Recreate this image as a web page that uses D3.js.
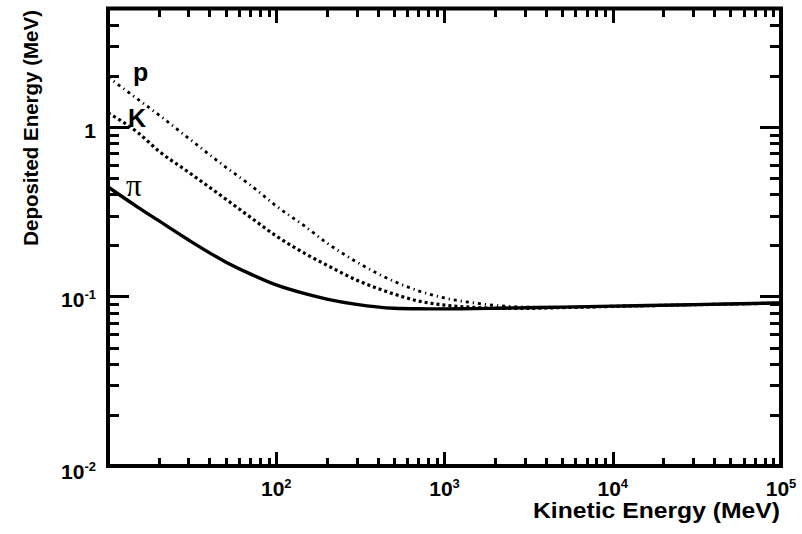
<!DOCTYPE html>
<html>
<head>
<meta charset="utf-8">
<script src="https://cdn.jsdelivr.net/npm/d3@7/dist/d3.min.js"></script>
<style>
  body { margin: 0; background: #fff; }
  svg { display: block; }
</style>
</head>
<body>
<svg id="chart" width="802" height="534"></svg>
<script>
"use strict";

/* global d3 */

// kinetic energy samples (MeV)
var energies = [10, 15, 20, 30, 50, 70, 100, 150, 200, 300, 500, 700, 1000, 1500, 2000, 3000, 5000, 10000, 30000, 100000];

// deposited energy (MeV)
var pionValues   = [0.443, 0.337, 0.280, 0.216, 0.160, 0.136, 0.117, 0.1035, 0.0965, 0.0898, 0.0852, 0.0846, 0.0845, 0.0848, 0.0852, 0.0858, 0.0866, 0.0877, 0.0895, 0.0916];
var kaonValues   = [1.21, 0.93, 0.722, 0.543, 0.376, 0.294, 0.2275, 0.178, 0.153, 0.125, 0.1035, 0.094, 0.089, 0.0862, 0.0852, 0.0850, 0.0860, 0.0874, 0.0893, 0.0914];
var protonValues = [1.97, 1.46, 1.18, 0.861, 0.58, 0.455, 0.342, 0.257, 0.207, 0.160, 0.123, 0.108, 0.098, 0.0916, 0.0886, 0.0867, 0.0862, 0.0874, 0.0893, 0.0914];

var curveLabels = ["p", "K", "\u03c0"];

var xDomain = [10, 1e5];
var yDomain = [0.01, 5];
var xMajorLabels = [{ base: "10", exp: "2", v: 1e2 }, { base: "10", exp: "3", v: 1e3 }, { base: "10", exp: "4", v: 1e4 }, { base: "10", exp: "5", v: 1e5 }];
var yMajorLabels = [{ base: "10", exp: "-2", v: 0.01 }, { base: "10", exp: "-1", v: 0.1 }, { base: "1", exp: "", v: 1 }];


(function() {

    var frame = { left: 108, right: 781, top: 8.5, bottom: 466 };
    var svg = d3.select("#chart");
    var font = "'Liberation Sans', Arial, Helvetica, sans-serif";

    var xScale = d3.scaleLog().domain(xDomain).range([frame.left, frame.right]);
    var yScale = d3.scaleLog().domain(yDomain).range([frame.bottom, frame.top]);

    function isMajor(v) {
        var l = Math.log10(v);
        return Math.abs(l - Math.round(l)) < 1e-6;
    }

    // curves (all samples lie inside the frame, no clipping needed)
    var line = d3.line()
        .x(function(d) { return xScale(d[0]); })
        .y(function(d) { return yScale(d[1]); })
        .curve(d3.curveMonotoneX);

    var series = [
        { values: protonValues, dash: "3,4,1.2,4", width: 2.8 },
        { values: kaonValues,   dash: "3,3",       width: 3.2 },
        { values: pionValues,   dash: null,        width: 3.4 }
    ];

    var curveGroup = svg.append("g").attr("id", "curvesId");
    series.forEach(function(s) {
        var pts = energies.map(function(e, i) { return [e, s.values[i]]; });
        curveGroup.append("path")
            .attr("d", line(pts))
            .attr("fill", "none")
            .attr("stroke", "black")
            .attr("stroke-width", s.width)
            .attr("stroke-dasharray", s.dash);
    });

    // frame
    svg.append("rect")
        .attr("x", frame.left).attr("y", frame.top)
        .attr("width", frame.right - frame.left)
        .attr("height", frame.bottom - frame.top)
        .attr("fill", "none").attr("stroke", "black").attr("stroke-width", 4);

    // ticks drawn inside the frame on all four sides, one path
    var tickPath = d3.path();

    xScale.ticks().forEach(function(v) {
        var x = Math.round(xScale(v));
        if (x <= frame.left + 1 || x >= frame.right - 1) { return; }
        var len = isMajor(v) ? 14 : 8;
        tickPath.moveTo(x, frame.bottom);
        tickPath.lineTo(x, frame.bottom - len);
        tickPath.moveTo(x, frame.top);
        tickPath.lineTo(x, frame.top + len);
    });

    yScale.ticks().forEach(function(v) {
        var y = Math.round(yScale(v));
        if (y >= frame.bottom - 1 || y <= frame.top + 1) { return; }
        var len = isMajor(v) ? 21 : 11;
        tickPath.moveTo(frame.left, y);
        tickPath.lineTo(frame.left + len, y);
        tickPath.moveTo(frame.right, y);
        tickPath.lineTo(frame.right - len, y);
    });

    svg.append("path")
        .attr("d", tickPath.toString())
        .attr("fill", "none")
        .attr("stroke", "black")
        .attr("stroke-width", 3)
        .attr("shape-rendering", "crispEdges");

    // curve labels
    svg.append("text").text(curveLabels[0])
        .attr("x", 133).attr("y", 81)
        .attr("font-family", font).attr("font-weight", "bold").attr("font-size", "25px");
    svg.append("text").text(curveLabels[1])
        .attr("x", 128).attr("y", 127)
        .attr("font-family", font).attr("font-weight", "bold").attr("font-size", "25px");
    svg.append("text").text(curveLabels[2])
        .attr("x", 126).attr("y", 196)
        .attr("font-family", "'Liberation Serif', 'DejaVu Serif', serif").attr("font-size", "31px");

    // tick labels
    function powerLabel(sel, d) {
        sel.append("tspan").text(d.base);
        if (d.exp) {
            sel.append("tspan").text(d.exp).attr("font-size", "13px").attr("dy", -8);
        }
    }

    xMajorLabels.forEach(function(d) {
        var t = svg.append("text")
            .attr("x", xScale(d.v)).attr("y", 496)
            .attr("text-anchor", "middle")
            .attr("font-family", font).attr("font-weight", "bold").attr("font-size", "21px");
        powerLabel(t, d);
    });

    yMajorLabels.forEach(function(d) {
        var t = svg.append("text")
            .attr("x", 96).attr("y", yScale(d.v) + (d.v === 0.01 ? 13 : 11))
            .attr("text-anchor", "end")
            .attr("font-family", font).attr("font-weight", "bold").attr("font-size", "21px");
        powerLabel(t, d);
    });

    // axis titles
    svg.append("text").text("Kinetic Energy (MeV)")
        .attr("x", 533).attr("y", 518)
        .attr("textLength", 247).attr("lengthAdjust", "spacingAndGlyphs")
        .attr("font-family", font).attr("font-weight", "bold").attr("font-size", "22px");

    svg.append("text").text("Deposited Energy (MeV)")
        .attr("transform", "translate(38, 10) rotate(-90)")
        .attr("text-anchor", "end")
        .attr("font-family", font).attr("font-weight", "bold").attr("font-size", "20.5px");

})();
</script>
</body>
</html>
